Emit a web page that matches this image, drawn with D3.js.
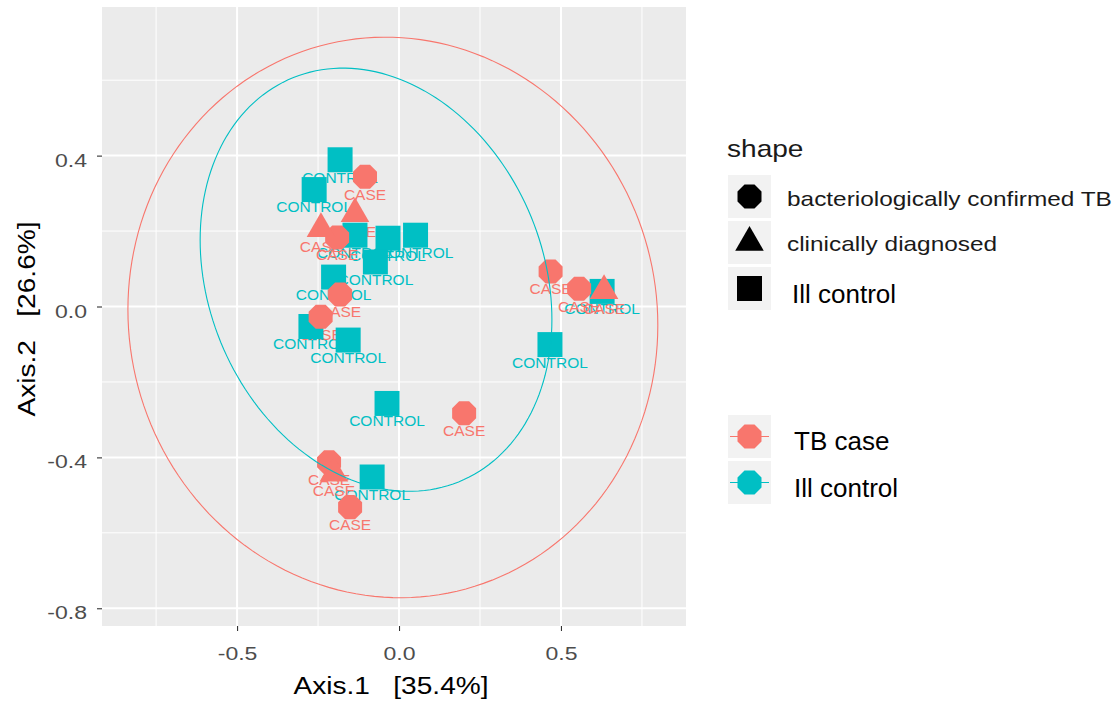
<!DOCTYPE html>
<html>
<head>
<meta charset="utf-8">
<script src="https://cdn.jsdelivr.net/npm/d3@7"></script>
<style>
  body { margin: 0; background: #ffffff; }
  svg { display: block; font-family: "Liberation Sans", Arial, sans-serif; }
  text { white-space: pre; }
</style>
</head>
<body>
<svg id="chart" width="1119" height="702"></svg>
<script>
// PCoA sample coordinates (Axis.1, Axis.2), sample group and diagnosis shape
const sampleAxis1 = [
  -0.182, -0.262, -0.136, -0.034, 0.051, -0.073, -0.202, -0.272, -0.157, 0.466, -0.037, -0.083, 0.627,
  -0.105, -0.191, -0.182, -0.242, 0.468, 0.556, 0.201, -0.216, -0.151,
  -0.241, -0.136, 0.633, -0.201
];
const sampleAxis2 = [
  0.389, 0.310, 0.189, 0.181, 0.189, 0.118, 0.078, -0.053, -0.089, -0.101, -0.257, -0.452, 0.040,
  0.344, 0.183, 0.032, -0.027, 0.093, 0.047, -0.283, -0.413, -0.532,
  0.206, 0.246, 0.042, -0.442
];
const sampleLabel = [
  "CONTROL", "CONTROL", "CONTROL", "CONTROL", "CONTROL", "CONTROL", "CONTROL", "CONTROL", "CONTROL", "CONTROL", "CONTROL", "CONTROL", "CONTROL",
  "CASE", "CASE", "CASE", "CASE", "CASE", "CASE", "CASE", "CASE", "CASE",
  "CASE", "CASE", "CASE", "CASE"
];
const sampleShape = [
  "ill", "ill", "ill", "ill", "ill", "ill", "ill", "ill", "ill", "ill", "ill", "ill", "ill",
  "bact", "bact", "bact", "bact", "bact", "bact", "bact", "bact", "bact",
  "clin", "clin", "clin", "clin"
];

// Groups and their colours
const groupLabels = ["CASE", "CONTROL"];
const groupNames = ["TB case", "Ill control"];
const groupColors = ["#F8766D", "#00BFC4"];

// Shape legend
const shapeKeys = ["bact", "clin", "ill"];
const shapeNames = ["bacteriologically confirmed TB", "clinically diagnosed", "Ill control"];

// 95% ellipses per group: centre, half-extents and correlation
const ellipseCx = [-0.019, -0.071];
const ellipseCy = [-0.029, 0.071];
const ellipseHx = [0.818, 0.543];
const ellipseHy = [0.743, 0.561];
const ellipseRho = [-0.028, -0.188];

// Axis ticks
const xTicks = [-0.5, 0, 0.5];
const xTickLabels = ["-0.5", "0.0", "0.5"];
const yTicks = [-0.8, -0.4, 0, 0.4];
const yTickLabels = ["-0.8", "-0.4", "0.0", "0.4"];
const xMinor = [-0.75, -0.25, 0.25, 0.75];
const yMinor = [-0.6, -0.2, 0.2, 0.6];

const xTitle = "Axis.1   [35.4%]";
const yTitle = "Axis.2   [26.6%]";

// ---- layout ----
const panel = { left: 102, right: 686, top: 7, bottom: 626 };
const x = d3.scaleLinear().domain([-0.917, 0.886]).range([panel.left, panel.right]);
const y = d3.scaleLinear().domain([-0.847, 0.794]).range([panel.bottom, panel.top]);
const colorOf = d3.scaleOrdinal().domain(groupLabels).range(groupColors);

const svg = d3.select("#chart");
const FONT = '"Liberation Sans", Arial, sans-serif';

function shapePath(kind, cx, cy) {
  if (kind === "ill") {
    const h = 12.5;
    return `M${cx - h},${cy - h}H${cx + h}V${cy + h}H${cx - h}Z`;
  }
  if (kind === "clin") {
    const r = 16.5;
    const hw = r * Math.sqrt(3) / 2;
    return `M${cx},${cy - r}L${cx + hw},${cy + r / 2}L${cx - hw},${cy + r / 2}Z`;
  }
  // octagon (filled circle)
  const R = 12 / Math.cos(Math.PI / 8);
  const pts = d3.range(8).map(k => {
    const a = Math.PI / 8 + k * Math.PI / 4;
    return [cx + R * Math.cos(a), cy + R * Math.sin(a)];
  });
  return "M" + pts.map(p => p.join(",")).join("L") + "Z";
}

function addText(parent, str, tx, ty, o) {
  return parent.append("text")
    .attr("transform", `translate(${tx},${ty})` + (o.rotate ? ` rotate(${o.rotate})` : "") + ` scale(${o.sx || 1},1)`)
    .attr("text-anchor", o.anchor || "start")
    .attr("xml:space", "preserve")
    .style("font-family", FONT)
    .style("font-size", o.size + "px")
    .attr("fill", o.fill || "#000")
    .text(str);
}

// ---- panel background and grid ----
svg.append("rect")
  .attr("x", panel.left).attr("y", panel.top)
  .attr("width", panel.right - panel.left).attr("height", panel.bottom - panel.top)
  .attr("fill", "#EBEBEB");

const grid = svg.append("g");
grid.selectAll(".vminor").data(xMinor).join("line")
  .attr("x1", d => x(d)).attr("x2", d => x(d))
  .attr("y1", panel.top).attr("y2", panel.bottom)
  .attr("stroke", "#fff").attr("stroke-width", 1);
grid.selectAll(".hminor").data(yMinor).join("line")
  .attr("y1", d => y(d)).attr("y2", d => y(d))
  .attr("x1", panel.left).attr("x2", panel.right)
  .attr("stroke", "#fff").attr("stroke-width", 1);
grid.selectAll(".vmajor").data(xTicks).join("line")
  .attr("x1", d => x(d)).attr("x2", d => x(d))
  .attr("y1", panel.top).attr("y2", panel.bottom)
  .attr("stroke", "#fff").attr("stroke-width", 2);
grid.selectAll(".hmajor").data(yTicks).join("line")
  .attr("y1", d => y(d)).attr("y2", d => y(d))
  .attr("x1", panel.left).attr("x2", panel.right)
  .attr("stroke", "#fff").attr("stroke-width", 2);

// ---- axes ----
const xAxis = svg.append("g")
  .attr("transform", `translate(0,${panel.bottom})`)
  .call(d3.axisBottom(x).tickValues(xTicks).tickFormat((d, i) => xTickLabels[i]).tickSize(5).tickSizeOuter(0));
xAxis.select(".domain").remove();
xAxis.selectAll(".tick line").attr("stroke", "#333333").attr("stroke-width", 1.1);
xAxis.selectAll(".tick text")
  .attr("y", null).attr("dy", null)
  .attr("transform", "translate(0,33.5) scale(1.28,1)")
  .attr("fill", "#4D4D4D")
  .style("font-family", FONT).style("font-size", "18px");

const yAxis = svg.append("g")
  .attr("transform", `translate(${panel.left},0)`)
  .call(d3.axisLeft(y).tickValues(yTicks).tickFormat((d, i) => yTickLabels[i]).tickSize(5).tickSizeOuter(0));
yAxis.select(".domain").remove();
yAxis.selectAll(".tick line").attr("stroke", "#333333").attr("stroke-width", 1.1);
yAxis.selectAll(".tick text")
  .attr("x", null).attr("dy", null)
  .attr("transform", "translate(-15,10.5) scale(1.28,1)")
  .attr("text-anchor", "end")
  .attr("fill", "#4D4D4D")
  .style("font-family", FONT).style("font-size", "18px");

addText(svg, xTitle, 391, 694, { size: 24, sx: 1.17, anchor: "middle" });
addText(svg, yTitle, 35, 319, { size: 24, sx: 1.17, anchor: "middle", rotate: -90 });

// ---- sample labels (drawn beneath the markers) ----
const idx = d3.range(sampleAxis1.length);
svg.append("g").selectAll("text").data(idx).join("text")
  .attr("x", i => x(sampleAxis1[i]))
  .attr("y", i => y(sampleAxis2[i]) + 17.5)
  .attr("dy", "0.35em")
  .attr("text-anchor", "middle")
  .style("font-family", FONT).style("font-size", "15.5px")
  .attr("fill", i => colorOf(sampleLabel[i]))
  .text(i => sampleLabel[i]);

// ---- markers: controls first, then cases ----
const order = idx.slice().sort((a, b) => (sampleLabel[a] === "CONTROL" ? 0 : 1) - (sampleLabel[b] === "CONTROL" ? 0 : 1));
svg.append("g").selectAll("path").data(order).join("path")
  .attr("d", i => shapePath(sampleShape[i], x(sampleAxis1[i]), y(sampleAxis2[i])))
  .attr("fill", i => colorOf(sampleLabel[i]));

// ---- ellipses ----
const line = d3.line().x(p => x(p[0])).y(p => y(p[1]));
const ts = d3.range(0, 361, 2).map(a => a * Math.PI / 180);
svg.append("g").selectAll("path").data(d3.range(ellipseCx.length)).join("path")
  .attr("d", g => line(ts.map(t => [
    ellipseCx[g] + ellipseHx[g] * Math.cos(t),
    ellipseCy[g] + ellipseHy[g] * (ellipseRho[g] * Math.cos(t) + Math.sqrt(1 - ellipseRho[g] ** 2) * Math.sin(t))
  ])))
  .attr("fill", "none")
  .attr("stroke", g => groupColors[g])
  .attr("stroke-width", 1.1);

// ---- shape legend ----
const legShape = svg.append("g");
addText(legShape, "shape", 727, 157, { size: 24, sx: 1.17, fill: "#1a1a1a" });
const shapeKeyTop = [175, 221, 267];
shapeKeys.forEach((k, i) => {
  legShape.append("rect").attr("x", 728).attr("y", shapeKeyTop[i]).attr("width", 43).attr("height", 43).attr("fill", "#F2F2F2");
  legShape.append("path").attr("d", shapePath(k, 749.5, shapeKeyTop[i] + 21.5)).attr("fill", "#000");
});
addText(legShape, shapeNames[0], 787, 206, { size: 20, sx: 1.22, fill: "#1a1a1a" });
addText(legShape, shapeNames[1], 787, 251, { size: 20, sx: 1.22, fill: "#1a1a1a" });
addText(legShape, shapeNames[2], 792, 303, { size: 26, fill: "#000" });

// ---- colour legend ----
const legColor = svg.append("g");
const colorKeyTop = [415, 461];
const colorLabelBase = [449.5, 497];
groupNames.forEach((name, i) => {
  const cy = colorKeyTop[i] + 21.5;
  legColor.append("rect").attr("x", 728).attr("y", colorKeyTop[i]).attr("width", 43).attr("height", 43).attr("fill", "#F2F2F2");
  legColor.append("line").attr("x1", 730).attr("x2", 769).attr("y1", cy).attr("y2", cy)
    .attr("stroke", groupColors[i]).attr("stroke-width", 1.1);
  legColor.append("path").attr("d", shapePath("bact", 749.5, cy)).attr("fill", groupColors[i]);
  addText(legColor, name, 794, colorLabelBase[i], { size: 26, fill: "#000" });
});
</script>
</body>
</html>
